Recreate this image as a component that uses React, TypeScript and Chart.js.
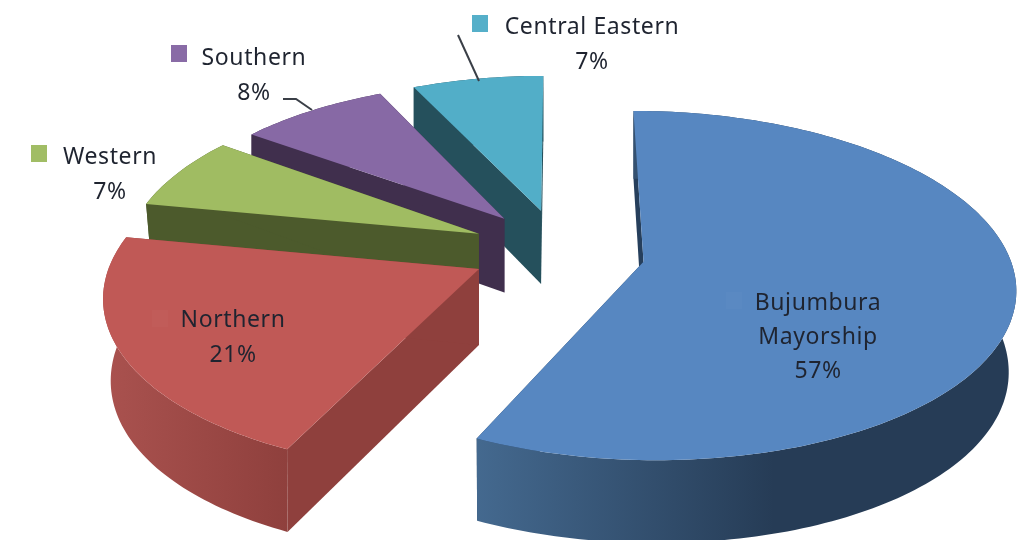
import React, { useEffect, useRef } from "react";
import { Chart, registerables } from "chart.js";

Chart.register(...registerables);

// Regional shares, clockwise from twelve o'clock
const categories = ["Bujumbura Mayorship", "Northern", "Western", "Southern", "Central Eastern"];
const shares = [57, 21, 7, 8, 7];
const explode = [56, 59, 59, 59, 59];

const topColors = ["#5787c1", "#c05956", "#a0bc62", "#8769a5", "#52aec8"];
const innerWallColors = ["#263f5c", "#8f403d", "#4c5a2c", "#402f4d", "#25505c"];
const rimWallStops: [string, string][] = [
  ["#44698f", "#263c56"],
  ["#aa524f", "#8f403d"],
  ["#4c5a2c", "#4c5a2c"],
  ["#402f4d", "#402f4d"],
  ["#25505c", "#25505c"],
];

// Painter's order, far slices first
const drawOrder = [4, 3, 2, 0, 1];

// Tilted-plane projection of the pie disc onto the canvas.
// Far slices foreshorten more, so the rim radii differ per slice.
const VIEW = { cx: 560, cy: 250, rx: 365, ry: 169, tilt: 0.136, depth: 75 };
const rimRx = [365, 365, 354, 351, 351];
const rimRy = [169, 169, 167, 163, 163];
const sliceDrop = [3, 0, 0, 0, 0];

const clamp01 = (t: number) => Math.min(1, Math.max(0, t));

const project = (ou: number, ov: number, cu: number, cv: number, i: number, low = false) => {
  const w = 1 - VIEW.tilt * (ov + cv);
  // the lower disc sits further from the eye, so its sides pull inward a little
  const pull = low ? 0.025 * (1 - cv) * clamp01((cv + 0.5) / 0.5) : 0;
  const drop = low ? VIEW.depth * (1 + 0.1 * (ov + cv)) : 0;
  return {
    x: VIEW.cx + (VIEW.rx * ou + rimRx[i] * cu * (1 - pull)) / w,
    y: VIEW.cy + sliceDrop[i] + (VIEW.ry * ov + rimRy[i] * cv) / w + drop,
  };
};

const FONT = '23px "Noto Sans"';
const INK = "#1f2430";

// One text block per slice: lines are derived from the category and share
const labelBoxes = [
  { cx: 818, top: 310, gap: 34, key: [726, 292], wrap: true },
  { cx: 233, top: 327, gap: 35, key: [152, 310], wrap: false },
  { cx: 110, top: 164, gap: 35, key: [31, 145], wrap: false },
  { cx: 254, top: 65, gap: 35, key: [171, 45], wrap: false },
  { cx: 592, top: 34, gap: 35, key: [472, 15], wrap: false },
];

const leaderLines = [
  [[283, 99], [296, 99], [312, 110]],
  [[458, 35], [479, 81]],
];

const sliceGeometry = (arc: any) => {
  const p = arc.getProps(["startAngle", "endAngle", "outerRadius"], true);
  const off = arc.options.offset || 0;
  const mid = (p.startAngle + p.endAngle) / 2;
  const ou = (Math.cos(mid) * off) / p.outerRadius;
  const ov = (Math.sin(mid) * off) / p.outerRadius;
  const steps = Math.max(8, Math.ceil((p.endAngle - p.startAngle) / 0.02));
  const rim: [number, number][] = [];
  for (let s = 0; s <= steps; s++) {
    const a = p.startAngle + ((p.endAngle - p.startAngle) * s) / steps;
    rim.push([Math.cos(a), Math.sin(a)]);
  }
  return { ou, ov, rim };
};

const tracePolygon = (ctx: CanvasRenderingContext2D, pts: { x: number; y: number }[]) => {
  ctx.beginPath();
  pts.forEach((q, i) => (i ? ctx.lineTo(q.x, q.y) : ctx.moveTo(q.x, q.y)));
  ctx.closePath();
};

const tiltedPie = {
  id: "tiltedPie",
  beforeDatasetDraw(chart: any) {
    const ctx: CanvasRenderingContext2D = chart.ctx;
    const arcs = chart.getDatasetMeta(0).data;
    ctx.save();
    drawOrder.forEach((i) => {
      const { ou, ov, rim } = sliceGeometry(arcs[i]);
      const top = rim.map(([u, v]) => project(ou, ov, u, v, i));
      const bottom = rim.map(([u, v]) => project(ou, ov, u, v, i, true));
      const a = project(ou, ov, 0, 0, i);
      const aLow = project(ou, ov, 0, 0, i, true);

      // radial faces
      ctx.fillStyle = innerWallColors[i];
      [0, rim.length - 1].forEach((e) => {
        tracePolygon(ctx, [a, top[e], bottom[e], aLow]);
        ctx.fill();
      });

      // curved outer face, shaded left to right
      const xs = top.map((q) => q.x);
      const grad = ctx.createLinearGradient(Math.min(...xs), 0, Math.max(...xs), 0);
      grad.addColorStop(0, rimWallStops[i][0]);
      grad.addColorStop(i === 0 ? 0.55 : 1, rimWallStops[i][1]);
      grad.addColorStop(1, rimWallStops[i][1]);
      ctx.fillStyle = grad;
      tracePolygon(ctx, [...top, ...bottom.slice().reverse()]);
      ctx.fill();

      // top face
      ctx.fillStyle = topColors[i];
      tracePolygon(ctx, [a, ...top]);
      ctx.fill();
    });
    ctx.restore();
    return false;
  },
  afterDatasetsDraw(chart: any) {
    const ctx: CanvasRenderingContext2D = chart.ctx;
    ctx.save();
    ctx.strokeStyle = "#3a3f47";
    ctx.lineWidth = 2;
    leaderLines.forEach((line) => {
      ctx.beginPath();
      line.forEach(([x, y], n) => (n ? ctx.lineTo(x, y) : ctx.moveTo(x, y)));
      ctx.stroke();
    });
    ctx.font = FONT;
    (ctx as any).letterSpacing = "0.6px";
    ctx.textAlign = "center";
    ctx.textBaseline = "alphabetic";
    categories.forEach((name, i) => {
      const box = labelBoxes[i];
      const lines = box.wrap ? name.split(" ") : [name];
      lines.push(`${shares[i]}%`);
      ctx.fillStyle = topColors[i];
      ctx.fillRect(box.key[0], box.key[1], 16, 17);
      ctx.fillStyle = "rgba(255,255,255,0.02)";
      ctx.fillRect(box.key[0], box.key[1], 16, 17);
      ctx.fillStyle = INK;
      lines.forEach((text, n) => ctx.fillText(text, box.cx, box.top + n * box.gap));
    });
    ctx.restore();
  },
};

export default function App() {
  const ref = useRef<HTMLCanvasElement>(null);
  useEffect(() => {
    const chart = new Chart(ref.current!, {
      type: "pie",
      data: {
        labels: categories,
        datasets: [{ data: shares, backgroundColor: topColors, offset: explode, borderWidth: 0 }],
      },
      options: {
        animation: false,
        responsive: false,
        layout: { padding: 0 },
        plugins: { legend: { display: false }, tooltip: { enabled: false } },
      },
      plugins: [tiltedPie],
    } as any);
    return () => chart.destroy();
  }, []);
  return (
    <div style={{ position: "fixed", left: 0, top: 0, width: 1018, height: 540, background: "#fff" }}>
      <canvas ref={ref} width={1018} height={540} style={{ display: "block" }} />
    </div>
  );
}
